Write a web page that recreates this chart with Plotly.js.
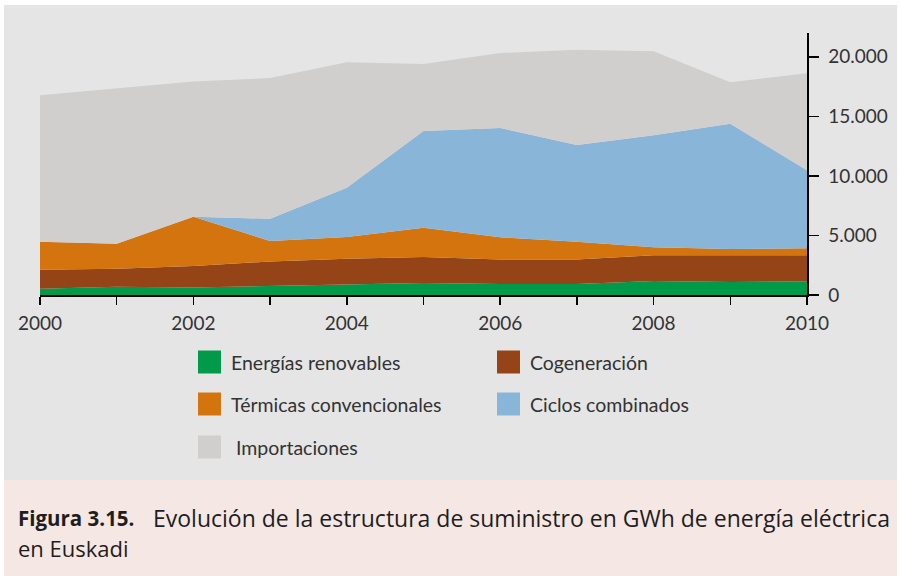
<!DOCTYPE html>
<html>
<head>
<meta charset="utf-8">
<script src="https://cdn.plot.ly/plotly-3.0.1.min.js"></script>
<style>html,body{margin:0;padding:0;background:#fff;}#chart{width:900px;height:576px;}</style>
</head>
<body>
<div id="chart"></div>
<script>
// ---- Data (GWh) ----
const years = [2000, 2001, 2002, 2003, 2004, 2005, 2006, 2007, 2008, 2009, 2010];
const renovables   = [530, 700, 640, 780, 900, 1000, 920, 920, 1170, 1090, 1150];
const cogeneracion = [1590, 1500, 1790, 2040, 2150, 2190, 2070, 2070, 2160, 2240, 2180];
const termicas     = [2350, 2100, 4140, 1710, 1810, 2450, 1850, 1480, 670, 530, 590];
const ciclos       = [0, 0, 0, 1870, 4140, 8140, 9190, 8130, 9420, 10510, 6560];
const importaciones = [12300, 13060, 11350, 11820, 10540, 5620, 6290, 8000, 7040, 3490, 8140];

const seriesNames = ['Energías renovables', 'Cogeneración', 'Térmicas convencionales', 'Ciclos combinados', 'Importaciones'];
const seriesValues = [renovables, cogeneracion, termicas, ciclos, importaciones];
const seriesColors = ['#009a4a', '#944416', '#d4740e', '#89b6d8', '#d0cfcd'];

const yTicks = [0, 5000, 10000, 15000, 20000];
const xTickLabels = years.map(y => (y % 2 === 0 ? String(y) : ''));

const captionBold = 'Figura 3.15.';
const captionText = 'Evolución de la estructura de suministro en GWh de energía eléctrica';
const captionText2 = 'en Euskadi';

// ---- Layout geometry (pixels) ----
const W = 900, H = 576;
const M = {l: 40, r: 93, t: 33, b: 281};
const pw = W - M.l - M.r, ph = H - M.t - M.b;
const px = x => (x - M.l) / pw;
const py = y => (H - M.b - y) / ph;

const traces = seriesNames.map((name, i) => ({
  type: 'scatter',
  mode: 'lines',
  x: years,
  y: seriesValues[i],
  name: name,
  stackgroup: 'one',
  fillcolor: seriesColors[i],
  line: {width: 0, color: seriesColors[i]},
  showlegend: false,
  hoverinfo: 'x+y+name'
}));

const shapes = [
  {type: 'rect', xref: 'paper', yref: 'paper', layer: 'below',
   x0: px(4), x1: px(897), y0: py(5), y1: py(480), fillcolor: '#e5e5e5', line: {width: 0}},
  {type: 'rect', xref: 'paper', yref: 'paper', layer: 'below',
   x0: px(4), x1: px(897), y0: py(480), y1: py(576), fillcolor: '#f5e8e4', line: {width: 0}}
];
const annotations = [];

// custom legend: 2 columns
const legendOrder = [0, 1, 2, 3, 4];
const colX = [198, 497];
const rowY = [362, 404, 447];
legendOrder.forEach((idx, k) => {
  const col = k % 2, row = Math.floor(k / 2);
  const x0 = colX[col], yc = rowY[row];
  shapes.push({type: 'rect', xref: 'paper', yref: 'paper',
    x0: px(x0), x1: px(x0 + 23), y0: py(yc - 11.5), y1: py(yc + 11.5),
    fillcolor: seriesColors[idx], line: {width: 0}});
  annotations.push({xref: 'paper', yref: 'paper', x: px(x0 + (idx === 4 ? 36 : 31)), y: py(yc),
    xanchor: 'left', yanchor: 'middle', showarrow: false, text: seriesNames[idx],
    font: {family: 'Lato, "Open Sans", sans-serif', size: 19.5, color: '#333333'}});
});

const capFont = '"Open Sans", "Noto Sans", sans-serif';
annotations.push({xref: 'paper', yref: 'paper', x: px(17), y: py(518),
  xanchor: 'left', yanchor: 'middle', showarrow: false, borderpad: 0,
  text: '<b>' + captionBold + '</b>',
  font: {family: capFont, size: 20.5, color: '#1e1e1e'}});
annotations.push({xref: 'paper', yref: 'paper', x: px(152), y: py(518),
  xanchor: 'left', yanchor: 'middle', showarrow: false, borderpad: 0,
  text: captionText,
  font: {family: capFont, size: 23, color: '#1e1e1e'}});
annotations.push({xref: 'paper', yref: 'paper', x: px(17), y: py(548),
  xanchor: 'left', yanchor: 'middle', showarrow: false, borderpad: 0,
  text: captionText2,
  font: {family: capFont, size: 22, color: '#1e1e1e'}});

const layout = {
  width: W, height: H,
  margin: M,
  paper_bgcolor: '#ffffff',
  plot_bgcolor: '#ffffff',
  separators: ',.',
  showlegend: false,
  xaxis: {
    range: [2000, 2010],
    tickvals: years, ticktext: xTickLabels,
    ticks: 'outside', ticklen: 8, tickwidth: 1.5, tickcolor: '#000',
    showline: true, linecolor: '#000', linewidth: 1.5,
    showgrid: false, zeroline: false,
    ticklabelstandoff: 3,
    tickfont: {family: 'Lato, "Open Sans", sans-serif', size: 19, color: '#333333'}
  },
  yaxis: {
    side: 'right',
    range: [0, 22000],
    tickvals: yTicks, tickformat: ',d',
    ticks: 'outside', ticklen: 10, tickwidth: 1.5, tickcolor: '#000',
    showline: true, linecolor: '#000', linewidth: 1.5,
    showgrid: false, zeroline: false,
    ticklabelstandoff: 6,
    tickfont: {family: 'Lato, "Open Sans", sans-serif', size: 19, color: '#333333'}
  },
  shapes: shapes,
  annotations: annotations
};

Plotly.newPlot('chart', traces, layout, {displayModeBar: false, staticPlot: true});
</script>
</body>
</html>
